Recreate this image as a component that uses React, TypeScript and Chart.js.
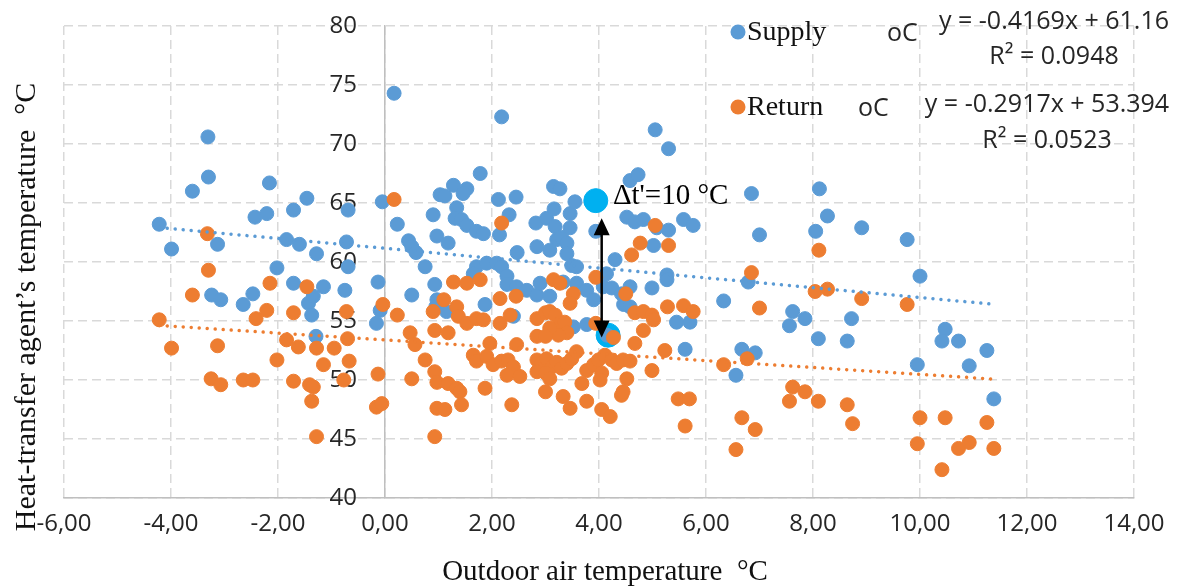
import React, { useEffect, useRef } from 'react';
import { Chart, registerables } from 'chart.js';

Chart.register(...registerables);

// Outdoor air temperature (°C) vs. heat-transfer agent temperature (°C)
const supplyPoints: [number, number][] = [
  [-4.22, 63.2], [-3.99, 61.1], [-3.6, 66.0], [-3.31, 70.6], [-3.3, 67.2], [-3.13, 61.5], [-3.24, 57.2], [-3.07, 56.8],
  [-2.65, 56.4], [-2.47, 57.3], [-2.43, 63.8], [-2.21, 64.1], [-2.16, 66.7], [-2.02, 59.5], [-1.84, 61.9], [-1.71, 64.4],
  [-1.6, 61.5], [-1.46, 65.4], [-1.71, 58.2], [-1.43, 56.5], [-1.34, 57.1], [-1.37, 55.5], [-1.28, 60.7], [-1.15, 57.9],
  [-1.29, 53.7], [-0.72, 61.7], [-0.69, 64.4], [-0.69, 59.6], [-0.75, 57.6], [-0.13, 58.3], [-0.05, 65.1], [-0.09, 55.9],
  [-0.16, 54.8], [0.17, 74.3], [0.23, 63.2], [0.44, 61.8], [0.5, 61.3], [0.58, 60.8], [0.75, 59.6], [0.5, 57.2],
  [0.9, 64.0], [0.93, 58.1], [0.97, 62.2], [0.97, 56.8], [1.03, 65.7], [1.28, 66.5], [1.53, 66.2], [1.46, 65.8],
  [1.12, 65.6], [1.34, 64.6], [1.31, 63.7], [1.43, 63.6], [1.18, 61.6], [1.53, 63.1], [1.71, 62.6], [1.84, 62.4],
  [1.78, 67.5], [2.18, 72.3], [2.12, 65.3], [2.45, 65.5], [2.14, 62.3], [2.32, 64.0], [2.47, 60.8], [2.82, 63.3],
  [2.84, 61.3], [3.02, 63.7], [3.16, 64.5], [3.18, 63.0], [3.21, 61.9], [3.3, 62.1], [3.4, 61.6], [3.08, 61.0],
  [3.46, 64.1], [3.55, 65.1], [3.46, 62.9], [3.4, 60.7], [3.49, 59.7], [3.15, 66.4], [3.27, 66.2], [3.94, 62.6],
  [4.3, 60.2], [4.52, 63.8], [4.67, 63.4], [4.83, 63.6], [5.08, 62.9], [5.3, 62.7], [5.58, 63.6], [5.76, 63.1],
  [5.02, 61.4], [5.27, 58.9], [4.58, 66.9], [4.73, 67.4], [5.05, 71.2], [5.3, 69.6], [1.71, 59.6], [1.9, 59.9],
  [2.09, 59.9], [2.18, 59.6], [1.65, 59.0], [2.28, 58.8], [3.58, 59.6], [4.14, 59.0], [1.87, 56.4], [2.4, 55.4],
  [2.28, 58.1], [2.46, 57.9], [2.65, 57.6], [2.84, 57.2], [3.08, 57.1], [2.9, 58.2], [3.33, 58.3], [3.58, 58.2],
  [3.77, 57.6], [3.9, 56.8], [4.08, 57.9], [4.24, 57.8], [4.42, 57.3], [4.58, 57.9], [4.46, 56.4], [4.58, 56.2],
  [4.99, 57.8], [5.27, 58.5], [3.77, 54.7], [3.52, 54.5], [5.45, 54.9], [5.7, 54.9], [5.61, 52.6], [6.33, 56.7],
  [0.95, 56.2], [1.15, 55.8], [4.15, 53.8], [6.85, 65.8], [7.0, 62.3], [8.12, 66.2], [8.27, 63.9], [8.05, 62.6],
  [8.91, 62.9], [9.76, 61.9], [10.0, 58.8], [6.79, 58.3], [7.62, 55.8], [7.85, 55.2], [7.56, 54.6], [8.1, 53.5],
  [8.72, 55.2], [8.64, 53.3], [6.67, 52.6], [6.92, 52.3], [6.56, 50.4], [9.95, 51.3], [10.47, 54.3], [10.41, 53.3],
  [10.72, 53.3], [10.92, 51.2], [11.25, 52.5], [11.38, 48.4],
];

const returnPoints: [number, number][] = [
  [-4.22, 55.1], [-3.99, 52.7], [-3.6, 57.2], [-3.32, 62.4], [-3.3, 59.3], [-3.13, 52.9], [-3.25, 50.1], [-3.07, 49.6],
  [-2.65, 50.0], [-2.47, 50.0], [-2.41, 55.2], [-2.21, 55.9], [-2.15, 58.2], [-2.02, 51.7], [-1.84, 53.4], [-1.71, 55.7],
  [-1.62, 52.8], [-1.71, 49.9], [-1.46, 57.9], [-1.41, 49.6], [-1.34, 49.4], [-1.37, 48.2], [-1.28, 45.2], [-1.28, 52.7],
  [-1.15, 51.3], [-0.95, 52.7], [-0.72, 55.8], [-0.7, 53.5], [-0.67, 51.6], [-0.77, 50.0], [-0.13, 50.5], [-0.16, 47.7],
  [-0.06, 48.0], [-0.04, 56.4], [0.17, 65.3], [0.23, 55.5], [0.5, 50.1], [0.47, 54.0], [0.56, 53.0], [0.75, 51.7],
  [0.9, 55.8], [0.93, 54.2], [0.93, 50.7], [0.97, 49.8], [0.97, 47.6], [0.93, 45.2], [1.1, 56.8], [1.34, 56.2],
  [1.37, 55.4], [1.53, 54.8], [1.71, 55.2], [1.84, 55.1], [1.18, 54.0], [1.28, 58.3], [1.53, 58.2], [1.78, 58.5],
  [2.15, 56.9], [2.45, 57.1], [2.15, 54.8], [2.34, 55.5], [1.96, 53.1], [2.46, 53.0], [1.65, 52.1], [1.71, 51.6],
  [1.9, 52.0], [2.02, 51.3], [2.18, 51.6], [2.3, 51.7], [2.4, 51.1], [2.28, 50.4], [2.52, 50.3], [1.18, 49.7],
  [1.34, 49.3], [1.4, 49.0], [1.12, 47.5], [1.43, 47.9], [1.87, 49.3], [2.37, 47.9], [2.84, 55.2], [3.0, 55.7],
  [3.08, 55.8], [3.18, 55.5], [3.27, 54.8], [2.84, 53.7], [3.15, 58.5], [3.27, 58.2], [3.52, 57.3], [3.46, 56.5],
  [3.36, 54.9], [3.4, 54.0], [3.24, 53.8], [3.08, 54.4], [3.0, 53.7], [2.84, 51.7], [2.93, 51.4], [3.02, 51.8],
  [3.12, 51.1], [3.21, 51.5], [3.3, 51.0], [3.4, 51.4], [3.49, 51.8], [3.58, 52.4], [2.84, 50.7], [3.0, 50.6],
  [3.08, 50.1], [3.0, 49.0], [3.33, 48.6], [3.46, 47.6], [3.77, 48.2], [3.68, 49.7], [3.77, 50.8], [3.9, 51.3],
  [3.99, 51.7], [4.05, 50.6], [4.02, 50.0], [4.11, 52.1], [4.24, 51.7], [4.33, 51.4], [4.45, 51.7], [4.58, 51.6],
  [4.52, 50.1], [4.42, 48.7], [4.45, 49.0], [4.05, 47.5], [4.21, 46.9], [3.94, 54.8], [4.27, 53.6], [3.94, 58.7],
  [4.5, 57.3], [4.67, 53.1], [4.67, 55.7], [4.83, 55.8], [4.99, 55.5], [5.02, 55.1], [4.83, 54.2], [5.28, 56.2],
  [5.58, 56.3], [5.76, 55.8], [4.99, 50.8], [5.23, 52.5], [5.48, 48.4], [5.69, 48.4], [5.61, 46.1], [6.33, 51.3],
  [2.18, 63.3], [5.05, 63.1], [4.77, 61.6], [4.61, 60.6], [5.3, 61.4], [6.85, 59.1], [8.11, 61.0], [7.0, 56.1],
  [8.04, 57.5], [8.27, 57.7], [8.91, 56.9], [9.76, 56.4], [6.77, 51.8], [7.62, 49.4], [7.85, 49.0], [7.56, 48.2],
  [8.1, 48.2], [8.64, 47.9], [8.74, 46.3], [6.67, 46.8], [6.92, 45.8], [6.56, 44.1], [10.0, 46.8], [10.47, 46.8],
  [9.95, 44.6], [10.41, 42.4], [10.72, 44.2], [10.92, 44.7], [11.25, 46.4], [11.38, 44.2],
];

// Highlighted design-point pair (supply / return) joined by the Δt arrow
const designPoints: [number, number][] = [[3.94, 65.2], [4.17, 53.8]];
const arrowX = 4.05;
const arrowTop = 63.7;
const arrowBottom = 53.6;
const deltaLabel = "Δt'=10 °C";
const deltaLabelAt: [number, number] = [4.26, 65.6];

// Linear trend lines: [slope, intercept]
const supplyTrend: [number, number] = [-0.4169, 61.16];
const returnTrend: [number, number] = [-0.2917, 53.394];
const supplyEquation = ['y = -0.4169x + 61.16', 'R² = 0.0948'];
const returnEquation = ['y = -0.2917x + 53.394', 'R² = 0.0523'];

const seriesNames = ['Supply', 'Return'];
const unitLabel = 'oC';

const xTickRange = [-6, 14, 2];
const yTickRange = [40, 80, 5];

const xTitle = 'Outdoor air temperature  °C';
const yTitle = 'Heat-transfer agent’s temperature  °C';

const BLUE = '#5b9bd5';
const ORANGE = '#ed7d31';
const CYAN = '#00b0f0';
const GRID = '#d9d9d9';
const AXIS = '#bfbfbf';
const TICK_FONT = '"Open Sans", "Noto Sans", sans-serif';
const SERIF = '"Liberation Serif", "DejaVu Serif", serif';
const Y_LABEL_GAP = 28;

const trendLine = (pts: [number, number][], [m, b]: [number, number]) => {
  const xs = pts.map((p) => p[0]);
  const lo = Math.min(...xs);
  const hi = Math.max(...xs);
  return [
    { x: lo, y: m * lo + b },
    { x: hi, y: m * hi + b },
  ];
};

const toXY = (pts: [number, number][]) => pts.map(([x, y]) => ({ x, y }));

const overlayPlugin = {
  id: 'overlay',
  beforeDraw(chart: any) {
    // keep the value labels of the centred y axis clear of the axis line
    const items = chart.scales.y.getLabelItems();
    if (items && !items.__shifted) {
      items.forEach((it: any) => {
        it.options.translation[0] -= Y_LABEL_GAP;
      });
      items.__shifted = true;
    }
  },
  afterDatasetsDraw(chart: any) {
    const { ctx, scales } = chart;
    const xs = scales.x;
    const ys = scales.y;
    const px = xs.getPixelForValue(arrowX);
    const top = ys.getPixelForValue(arrowTop);
    const bottom = ys.getPixelForValue(arrowBottom);
    const head = 17;
    const half = 8;
    ctx.save();
    ctx.strokeStyle = '#000';
    ctx.fillStyle = '#000';
    ctx.lineWidth = 2.5;
    ctx.beginPath();
    ctx.moveTo(px, top + head - 2);
    ctx.lineTo(px, bottom - head + 2);
    ctx.stroke();
    ctx.beginPath();
    ctx.moveTo(px, top);
    ctx.lineTo(px - half, top + head);
    ctx.lineTo(px + half, top + head);
    ctx.closePath();
    ctx.fill();
    ctx.beginPath();
    ctx.moveTo(px, bottom);
    ctx.lineTo(px - half, bottom - head);
    ctx.lineTo(px + half, bottom - head);
    ctx.closePath();
    ctx.fill();

    ctx.font = `29px ${SERIF}`;
    ctx.textAlign = 'left';
    ctx.textBaseline = 'middle';
    ctx.fillText(deltaLabel, xs.getPixelForValue(deltaLabelAt[0]), ys.getPixelForValue(deltaLabelAt[1]));
    ctx.restore();
  },
  afterDraw(chart: any) {
    const { ctx } = chart;
    ctx.save();
    // legend entries with trend-line equations
    const rows = [
      { color: BLUE, name: seriesNames[0], dotY: 32, base: 40, unitX: 887, eq: supplyEquation, eqX: 1054, eqY: [22, 57] },
      { color: ORANGE, name: seriesNames[1], dotY: 107, base: 115, unitX: 858, eq: returnEquation, eqX: 1047, eqY: [105, 141] },
    ];
    for (const r of rows) {
      ctx.fillStyle = r.color;
      ctx.beginPath();
      ctx.arc(738, r.dotY, 7.5, 0, Math.PI * 2);
      ctx.fill();
      ctx.fillStyle = '#111';
      ctx.font = `28px ${SERIF}`;
      ctx.textAlign = 'left';
      ctx.textBaseline = 'alphabetic';
      ctx.fillText(r.name, 747, r.base);
      ctx.fillStyle = '#262626';
      ctx.font = `25px ${TICK_FONT}`;
      ctx.fillText(unitLabel, r.unitX, r.base + 1);
      ctx.textAlign = 'center';
      ctx.textBaseline = 'middle';
      ctx.fillText(r.eq[0], r.eqX, r.eqY[0]);
      ctx.fillText(r.eq[1], r.eqX, r.eqY[1]);
    }
    // axis titles
    ctx.fillStyle = '#111';
    ctx.textAlign = 'center';
    ctx.textBaseline = 'middle';
    ctx.font = `29px ${SERIF}`;
    ctx.fillText(xTitle, 605, 572);
    ctx.font = `30px ${SERIF}`;
    ctx.translate(27, 307);
    ctx.rotate(-Math.PI / 2);
    ctx.fillText(yTitle, 0, 0);
    ctx.restore();
  },
};

export default function App() {
  const canvasRef = useRef<HTMLCanvasElement | null>(null);

  useEffect(() => {
    const canvas = canvasRef.current;
    if (!canvas) return;
    const pointStyle = (color: string, r: number) => ({
      backgroundColor: color,
      borderColor: color,
      borderWidth: 1,
      pointRadius: r,
      pointHoverRadius: r,
    });
    const chart = new Chart(canvas, {
      type: 'scatter',
      data: {
        datasets: [
          {
            type: 'line',
            label: 'Supply trend',
            data: trendLine(supplyPoints, supplyTrend),
            borderColor: BLUE,
            borderWidth: 3.5,
            borderDash: [0.01, 8],
            borderCapStyle: 'round',
            pointRadius: 0,
            fill: false,
            order: 0,
          },
          {
            type: 'line',
            label: 'Return trend',
            data: trendLine(returnPoints, returnTrend),
            borderColor: ORANGE,
            borderWidth: 3.5,
            borderDash: [0.01, 8],
            borderCapStyle: 'round',
            pointRadius: 0,
            fill: false,
            order: 0,
          },
          { label: seriesNames[1], data: toXY(returnPoints), ...pointStyle(ORANGE, 7), order: 1 },
          { label: seriesNames[0], data: toXY(supplyPoints), ...pointStyle(BLUE, 7), order: 2 },
          { label: 'Design point', data: toXY(designPoints), ...pointStyle(CYAN, 12), order: 3 },
        ] as any,
      },
      options: {
        animation: false,
        responsive: false,
        events: [],
        layout: { padding: { left: 64, right: 45, top: 26, bottom: 0 } },
        plugins: { legend: { display: false }, tooltip: { enabled: false } },
        scales: {
          x: {
            type: 'linear',
            position: 'bottom',
            min: xTickRange[0],
            max: xTickRange[1],
            afterFit: (scale: any) => {
              scale.height = 88;
            },
            ticks: {
              stepSize: xTickRange[2],
              padding: 12,
              color: '#262626',
              font: { family: TICK_FONT, size: 24 },
              callback: (v: any) => Number(v).toFixed(2).replace('.', ','),
              maxRotation: 0,
            },
            grid: { color: GRID, lineWidth: 1.5, drawTicks: false },
            border: { display: true, color: AXIS, width: 1.5, dash: [9, 5] },
          },
          y: {
            type: 'linear',
            position: { x: 0 } as any,
            min: yTickRange[0],
            max: yTickRange[1],
            ticks: {
              stepSize: yTickRange[2],
              color: '#262626',
              font: { family: TICK_FONT, size: 24 },
            },
            grid: { color: GRID, lineWidth: 1.5, drawTicks: false },
            border: { display: true, color: AXIS, width: 1.5, dash: [9, 5] },
          },
        },
      },
      plugins: [overlayPlugin],
    });
    return () => chart.destroy();
  }, []);

  return (
    <div style={{ position: 'fixed', left: 0, top: 0, width: 1179, height: 586, background: '#fff' }}>
      <canvas ref={canvasRef} width={1179} height={586} style={{ display: 'block' }} />
    </div>
  );
}
